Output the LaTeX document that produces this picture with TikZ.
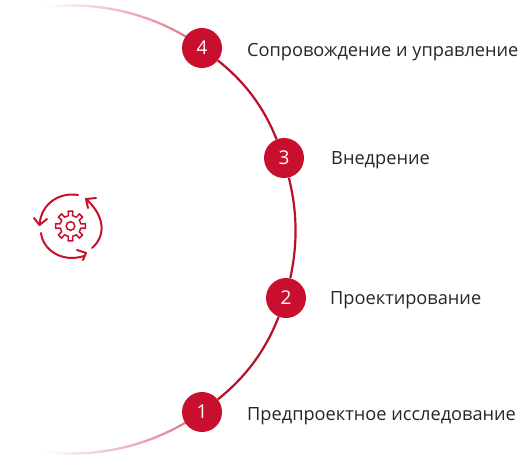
\documentclass[tikz,border=0pt]{standalone}
\usepackage{fontspec}
\setmainfont{Open Sans}
\definecolor{crim}{HTML}{C8102E}
\tikzset{
  stepdot/.style={circle,fill=crim,text=white,minimum size=40pt,inner sep=0pt,font=\fontsize{19}{19}\selectfont},
  steplabel/.style={text=black!85,inner sep=0pt,font=\fontsize{18.2}{20}\selectfont},
  arcline/.style={crim!92!black,line width=2.2pt},
  icon/.style={crim,line width=2pt,line cap=round,line join=round}
}
\begin{document}
\begin{tikzpicture}[x=1pt,y=-1pt]
\useasboundingbox (0,0) rectangle (521,458);
% fading tails
\foreach \i in {0,...,39}{
  \pgfmathsetmacro{\a}{-54.4-\i*1.05}
  \pgfmathsetmacro{\b}{-54.4-(\i+1)*1.07}
  \pgfmathsetmacro{\m}{max(0,62*(1-\i/40))}
  \draw[crim!\m!white,line width=2.2pt] ({72+224*cos(\a)},{229.5+224*sin(\a)}) -- ({72+224*cos(\b)},{229.5+224*sin(\b)});
  \pgfmathsetmacro{\a}{54.4+\i*1.05}
  \pgfmathsetmacro{\b}{54.4+(\i+1)*1.07}
  \draw[crim!\m!white,line width=2.2pt] ({72+224*cos(\a)},{229.5+224*sin(\a)}) -- ({72+224*cos(\b)},{229.5+224*sin(\b)});
}
\node[stepdot] (n4) at (202,48) {4};
\node[stepdot] (n3) at (284,158) {3};
\node[stepdot] (n2) at (286,298) {2};
\node[stepdot] (n1) at (202,412) {1};
\draw[arcline] (n4) to[bend left=15,looseness=0.9] (n3);
\draw[arcline] (n3) to[bend left=13,looseness=0.9] (n2);
\draw[arcline] (n2) to[bend left=15,looseness=0.9] (n1);
\node[steplabel,anchor=west] (t4) at (247,52) {Сопровождение и управление};
\node[steplabel,anchor=west] (t3) at (331,160) {Внедрение};
\node[steplabel,anchor=west] (t2) at (330,300) {Проектирование};
\node[steplabel,anchor=west] (t1) at (247,416) {Предпроектное исследование};
% icon
\def\cx{70.5}\def\cy{226}
\draw[icon] (78,195) .. controls (60,192) and (41,203) .. (39.5,225);
\draw[icon] (34,218) -- (39.5,225) -- (47,219);
\draw[icon] (41,233) .. controls (43,250) and (62,263) .. (84,256);
\draw[icon] (77,250) -- (86,253) -- (83,260);
\draw[icon] (92,248) .. controls (107,235) and (104,215) .. (86,199);
\draw[icon] (96,198) -- (86,199) -- (88,208);
\draw[crim,line width=1.5pt] (\cx,\cy) circle (4.3);
\draw[crim,line width=1.5pt,line join=round]
  ({\cx+10.5*cos(-16.5)},{\cy+10.5*sin(-16.5)})
  \foreach \k in {0,45,...,315}{
    -- ({\cx+10.5*cos(\k-11)},{\cy+10.5*sin(\k-11)})
    -- ({\cx+15*cos(\k-9)},{\cy+15*sin(\k-9)})
    -- ({\cx+15*cos(\k+9)},{\cy+15*sin(\k+9)})
    -- ({\cx+10.5*cos(\k+11)},{\cy+10.5*sin(\k+11)})
    -- ({\cx+10.5*cos(\k+16.5)},{\cy+10.5*sin(\k+16.5)})
  } -- cycle;
\end{tikzpicture}
\end{document}
